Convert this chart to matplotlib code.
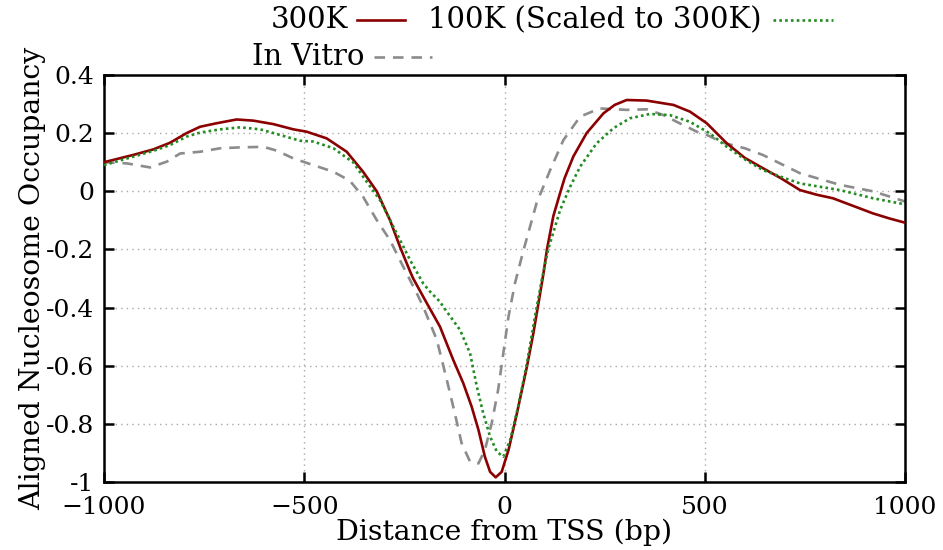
import matplotlib
matplotlib.use("Agg")
import matplotlib.pyplot as plt
from matplotlib.lines import Line2D

plt.rcParams['font.family'] = ['DejaVu Serif']

# ---- data ----
x_300k = [-1000, -927, -877, -835, -794, -760, -719, -669, -627, -577, -527, -494, -444,
          -394, -353, -319, -286, -261, -236, -228, -200, -161, -128, -103, -82, -65, -49,
          -36, -22, -7, 10, 31, 56, 72, 89, 97, 106, 122, 139, 150, 172, 205, 247, 275,
          305, 355, 422, 463, 505, 555, 600, 638, 690, 738, 780, 820, 870, 920, 960, 1000]
y_300k = [0.10, 0.125, 0.144, 0.167, 0.20, 0.222, 0.234, 0.247, 0.243, 0.231, 0.213,
          0.205, 0.182, 0.136, 0.067, 0.0, -0.099, -0.191, -0.275, -0.30, -0.37, -0.466,
          -0.58, -0.66, -0.741, -0.821, -0.913, -0.965, -0.984, -0.965, -0.89, -0.764,
          -0.603, -0.489, -0.351, -0.285, -0.20, -0.085, -0.005, 0.045, 0.12, 0.20, 0.268,
          0.297, 0.314, 0.312, 0.297, 0.274, 0.234, 0.165, 0.115, 0.085, 0.045, 0.004,
          -0.012, -0.024, -0.05, -0.076, -0.093, -0.108]

x_100k = [-1000, -927, -877, -835, -794, -760, -710, -660, -610, -561, -511, -477, -427,
          -394, -378, -353, -311, -269, -236, -203, -186, -161, -153, -111, -86, -69, -53,
          -36, -19, -3, 14, 34, 56, 76, 93, 109, 139, 164, 189, 230, 272, 313, 363, 413,
          463, 513, 555, 600, 645, 700, 738, 838, 920, 1000]
y_100k = [0.09, 0.119, 0.139, 0.159, 0.188, 0.202, 0.213, 0.22, 0.213, 0.194, 0.174, 0.171,
          0.148, 0.115, 0.10, 0.05, -0.03, -0.145, -0.236, -0.317, -0.345, -0.38, -0.397,
          -0.477, -0.557, -0.672, -0.764, -0.844, -0.896, -0.913, -0.856, -0.741, -0.592,
          -0.431, -0.305, -0.20, -0.064, 0.016, 0.085, 0.165, 0.217, 0.251, 0.266, 0.262,
          0.239, 0.199, 0.153, 0.11, 0.073, 0.045, 0.027, 0.004, -0.024, -0.045]

x_vitro = [-1000, -943, -885, -843, -810, -760, -710, -660, -602, -569, -527, -486, -427,
           -386, -353, -319, -286, -253, -236, -219, -203, -169, -144, -124, -107, -86, -65,
           -49, -32, -16, -3, 10, 26, 46, 80, 114, 147, 189, 238, 305, 355, 397, 430, 480,
           505, 546, 600, 645, 738, 838, 920, 1000]
y_vitro = [0.10, 0.096, 0.082, 0.102, 0.13, 0.136, 0.148, 0.151, 0.153, 0.14, 0.113, 0.094,
           0.067, 0.036, -0.019, -0.099, -0.168, -0.259, -0.305, -0.351, -0.397, -0.511,
           -0.649, -0.764, -0.867, -0.93, -0.936, -0.89, -0.798, -0.684, -0.557, -0.431,
           -0.317, -0.21, -0.041, 0.073, 0.176, 0.257, 0.285, 0.28, 0.282, 0.262, 0.239,
           0.205, 0.194, 0.167, 0.148, 0.125, 0.062, 0.022, 0.0, -0.035]

x_ticks = [-1000, -500, 0, 500, 1000]
y_ticks = [-1, -0.8, -0.6, -0.4, -0.2, 0, 0.2, 0.4]
y_tick_labels = ["-1", "-0.8", "-0.6", "-0.4", "-0.2", "0", "0.2", "0.4"]

labels = ["300K", "100K (Scaled to 300K)", "In Vitro"]
colors = ["#8b0000", "#228b22", "#8c8c8c"]
styles = ['-', (0, (1, 1.2)), (0, (4, 3))]

W, H = 943, 550
fig = plt.figure(figsize=(W/100, H/100), dpi=100)
ax = fig.add_axes([104/W, 1-482/H, 801/W, 407/H])

series = [(x_300k, y_300k), (x_100k, y_100k), (x_vitro, y_vitro)]
zorders = [3, 4, 2]
for (xs, ys), c, ls, z in zip(series, colors, styles, zorders):
    ax.plot(xs, ys, color=c, lw=1.9, linestyle=ls, zorder=z)

ax.set_xlim(-1000, 1000)
ax.set_ylim(-1, 0.4)
ax.set_xticks(x_ticks)
ax.set_yticks(y_ticks)
ax.set_yticklabels(y_tick_labels)
ax.tick_params(direction='in', length=7, width=1.8, top=True, right=True,
               labelsize=18)
ax.tick_params(axis='x', pad=10)
ax.tick_params(axis='y', pad=7)
ax.grid(True, color="#a8a8a8", linestyle=(0, (1, 3)), lw=1.0)
for s in ax.spines.values():
    s.set_linewidth(1.8)

ax.set_xlabel("Distance from TSS (bp)", fontsize=20)
ax.set_ylabel("Aligned Nucleosome Occupancy", fontsize=20)

# legend (gnuplot style: right-justified text followed by sample)
leg_rows = [(348, 20, 357, 405), (762, 20, 773, 833), (364, 57, 374, 432)]
for (tr, yp, x0, x1), lab, c, ls in zip(leg_rows, labels, colors, styles):
    fig.text(tr/W, 1-yp/H, lab, ha='right', va='center', fontsize=21)
    fig.add_artist(Line2D([x0/W, x1/W], [1-yp/H, 1-yp/H], color=c, lw=1.9,
                          linestyle=ls, transform=fig.transFigure))

fig.canvas.draw()
renderer = fig.canvas.get_renderer()

def fit(t, target_px, vertical=False):
    bb = t.get_window_extent(renderer)
    cur = bb.height if vertical else bb.width
    t.set_fontsize(t.get_fontsize() * target_px / cur)

fit(ax.xaxis.label, 336)
fit(ax.yaxis.label, 462, vertical=True)
ax.xaxis.set_label_coords((504 - 104) / 801, (482 - 519) / 407)
ax.yaxis.set_label_coords((46 - 104) / 801, 0.5)

fig.savefig("out.png", dpi=100)
